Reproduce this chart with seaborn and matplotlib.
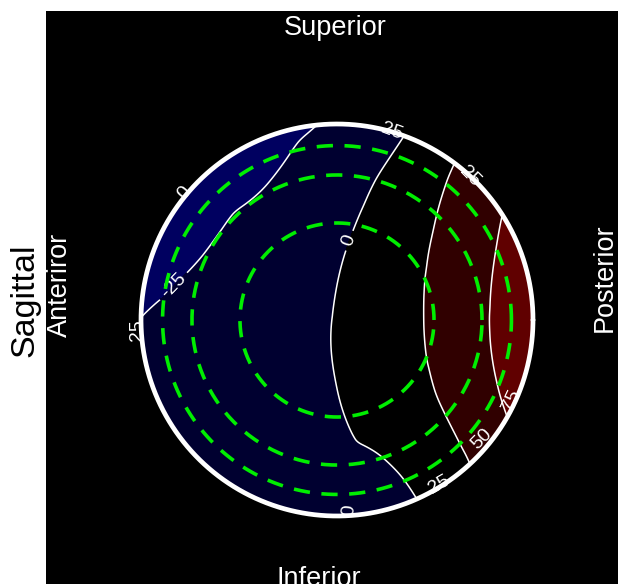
import numpy as np
import pandas as pd
import matplotlib
matplotlib.use("Agg")
import matplotlib.pyplot as plt
import matplotlib.tri as mtri
import seaborn as sns

# Field values on a regular electrode grid (head radius = 1), rows from top to bottom
grid_x = [-1.05, -0.70, -0.35, 0.00, 0.35, 0.70, 1.05]
grid_y = [1.05, 0.70, 0.35, 0.00, -0.35, -0.70, -1.05]
row_p105 = [-56, -45, -35, -23, -4, 25, 56]
row_p070 = [-46, -35, -25, -10, 10, 36, 62]
row_p035 = [-37, -26, -14, -2, 17, 42, 68]
row_000 = [-26, -17, -8, 1, 19, 44, 72]
row_m035 = [-21, -14, -7, 0, 16, 40, 70]
row_m070 = [-19, -14, -9, -4, 4, 28, 64]
row_m105 = [-22, -18, -13, -10, -7, 10, 45]

levels = [-75, -50, -25, 0, 25, 50, 75, 100]
fill_colors = ["#000090", "#000060", "#000030", "#000000", "#300000", "#600000", "#900000"]
line_levels = [-25, 0, 25, 50, 75]

ring_radii = [0.495, 0.74, 0.89]

orientation_labels = ["Superior", "Inferior", "Anteriror", "Posterior"]
view_name = "Sagittal"

# Edge annotations of the interpolated map: (text, x, y, rotation)
edge_labels = [
    ("0", -0.78, 0.65, 50),
    ("25", -1.02, -0.05, 90),
    ("25", 0.28, 0.96, -20),
    ("25", 0.68, 0.73, -45),
    ("0", 0.06, -0.97, 85),
    ("25", 0.52, -0.84, 30),
    ("50", 0.74, -0.61, 45),
    ("75", 0.89, -0.41, 65),
]

sns.set_theme(style="white")
plt.rcParams["font.family"] = ["Liberation Sans", "DejaVu Sans"]
plt.rcParams["contour.negative_linestyle"] = "solid"

W, H = 618, 584
fig = plt.figure(figsize=(W / 100, H / 100), dpi=100)
fig.patch.set_facecolor("white")
ax = fig.add_axes([46 / W, 0, (W - 46) / W, 573 / H])
ax.set_facecolor("black")
for s in ax.spines.values():
    s.set_visible(False)
ax.set_xticks([])
ax.set_yticks([])

# Head centre at pixel (337, 320), radius 196 px
px = 196.0
ax.set_xlim((46 - 337) / px, (W - 337) / px)
ax.set_ylim((320 - H) / px, (320 - 11) / px)

# Interpolate the electrode grid onto a fine mesh
rows = np.array([row_p105, row_p070, row_p035, row_000, row_m035, row_m070, row_m105], float)
GX, GY = np.meshgrid(grid_x, grid_y)
tri = mtri.Triangulation(GX.ravel(), GY.ravel())
interp = mtri.CubicTriInterpolator(tri, rows.ravel(), kind="geom")
xi = np.linspace(-1.0, 1.0, 401)
XI, YI = np.meshgrid(xi, xi)
ZI = interp(XI, YI)
ZI = np.ma.masked_where(np.hypot(XI, YI) > 1.0, ZI)

ax.contourf(XI, YI, ZI, levels=levels, colors=fill_colors)
cs = ax.contour(XI, YI, ZI, levels=line_levels, colors="white", linewidths=1.1,
                linestyles="solid")
ax.clabel(cs, levels=[-25, 0], inline=True, fontsize=14, colors="white",
          fmt="%d", manual=[(-0.80, 0.14), (0.02, 0.42)])

# Head outline
t = np.linspace(0, 2 * np.pi, 400)
ax.plot(np.cos(t), np.sin(t), color="white", lw=3.4, zorder=5)

# Dashed reference rings
ring_df = pd.concat(
    [pd.DataFrame({"x": r * np.cos(t), "y": r * np.sin(t), "ring": i})
     for i, r in enumerate(ring_radii)],
    ignore_index=True,
)
sns.lineplot(data=ring_df, x="x", y="y", units="ring", estimator=None, sort=False,
             color="#00ee00", lw=2.6, linestyle=(0, (4.5, 3.2)), legend=False, ax=ax, zorder=6)
ax.set_xlabel("")
ax.set_ylabel("")

for txt, x, y, rot in edge_labels:
    ax.text(x, y, txt, color="white", fontsize=14, rotation=rot,
            ha="center", va="center", zorder=7)

# Orientation labels
fig.text(335 / W, 1 - 28 / H, orientation_labels[0], color="white", fontsize=19.5, ha="center", va="center")
fig.text(319 / W, 1 - 579 / H, orientation_labels[1], color="white", fontsize=19.5, ha="center", va="center")
fig.text(60 / W, 1 - 285 / H, orientation_labels[2], color="white", fontsize=19.5, ha="center", va="center", rotation=90)
fig.text(605 / W, 1 - 278 / H, orientation_labels[3], color="white", fontsize=19.5, ha="center", va="center", rotation=90)
fig.text(25 / W, 1 - 300 / H, view_name, color="black", fontsize=24.5, ha="center", va="center", rotation=90)

fig.savefig("out.png", dpi=100, facecolor="white")
